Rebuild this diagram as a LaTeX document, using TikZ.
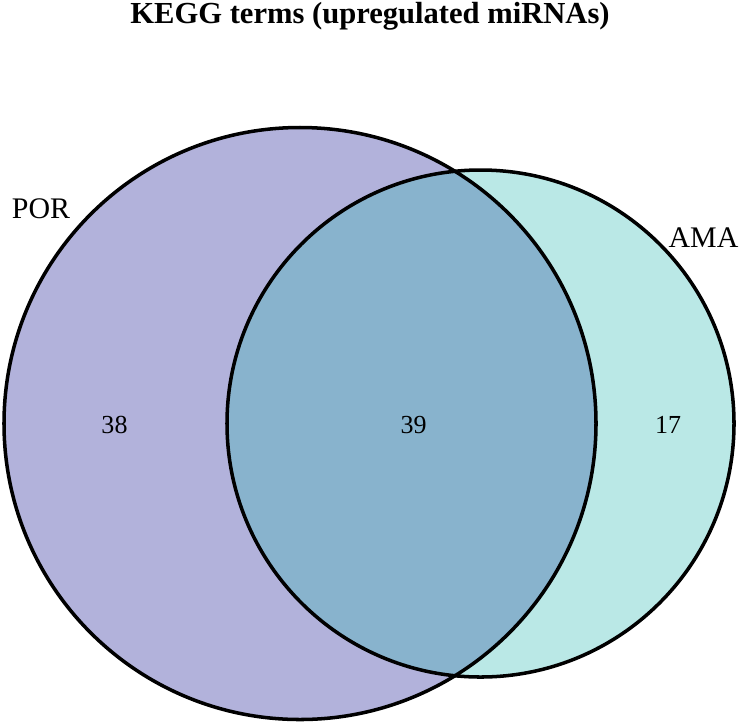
\documentclass[tikz,border=0pt]{standalone}
\usepackage{fontspec}
\setmainfont{Liberation Serif}
\usepackage{tikz}
\usetikzlibrary{positioning}
\usepackage{xcolor}
\definecolor{porfill}{HTML}{B2B2DB}
\definecolor{amafill}{HTML}{BAE8E6}
\definecolor{bothfill}{HTML}{88B3CD}

\begin{document}
\begin{tikzpicture}[
  setline/.style={draw=black, line width=2pt},
  setlabel/.style={anchor=base, inner sep=0pt, font=\fontsize{17}{20}\selectfont},
  count/.style={anchor=base, inner sep=0pt, font=\fontsize{14.8}{17}\selectfont}
]
  \useasboundingbox (0,0) rectangle (14.84,-14.54);
  % Title
  \node[anchor=base, inner sep=0pt, font=\fontsize{17.4}{20}\selectfont\bfseries] (title) at (7.4,-0.46) {KEGG terms (upregulated miRNAs)};

  % Sets
  \fill[porfill] (6.0,-8.47) circle (5.92cm);
  \fill[amafill] (9.61,-8.47) circle (5.07cm);
  \begin{scope}
    \clip (6.0,-8.47) circle (5.92cm);
    \fill[bothfill] (9.61,-8.47) circle (5.07cm);
  \end{scope}
  \draw[setline] (6.0,-8.47) circle (5.92cm);
  \draw[setline] (9.61,-8.47) circle (5.07cm);

  % Set names
  \node[setlabel] (por) at (0.82,-4.36) {POR};
  \node[setlabel] (ama) at (14.07,-4.94) {AMA};

  % Counts
  \node[count] (onlypor) at (2.29,-8.66) {38};
  \node[count] (both) at (8.27,-8.66) {39};
  \node[count] (onlyama) at (13.36,-8.66) {17};
\end{tikzpicture}
\end{document}
